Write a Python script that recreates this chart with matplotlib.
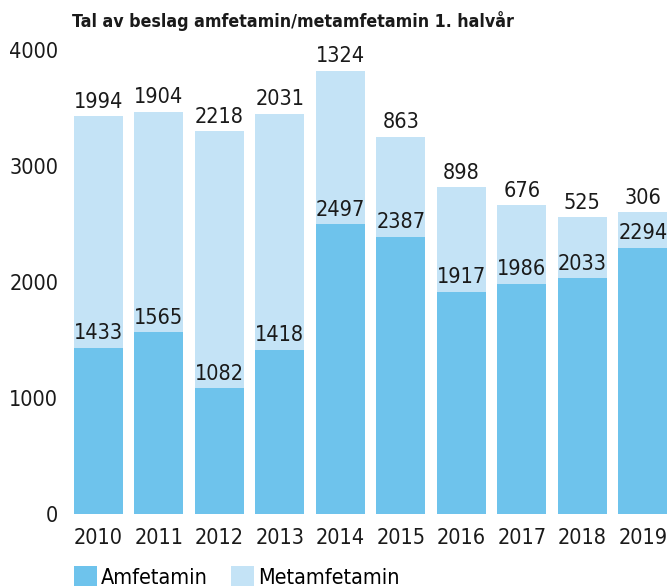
import matplotlib
matplotlib.use("Agg")
import matplotlib.pyplot as plt
from matplotlib.patches import Patch

years = ["2010", "2011", "2012", "2013", "2014", "2015", "2016", "2017", "2018", "2019"]
amfetamin = [1433, 1565, 1082, 1418, 2497, 2387, 1917, 1986, 2033, 2294]
metamfetamin = [1994, 1904, 2218, 2031, 1324, 863, 898, 676, 525, 306]
yticks = [0, 1000, 2000, 3000, 4000]

c_dark = "#6EC3EC"
c_light = "#C4E3F6"
txt = "#1a1a1a"
fam = ["DejaVu Sans"]
st = "condensed"
fs = 15.5

W, H = 667, 587
fig = plt.figure(figsize=(W / 100, H / 100), dpi=100)
ax = fig.add_axes([68 / W, (H - 514) / H, (667 - 68) / W, (514 - 50) / H])

x = list(range(len(years)))
ax.bar(x, amfetamin, width=0.81, color=c_dark, linewidth=0)
ax.bar(x, metamfetamin, bottom=amfetamin, width=0.81, color=c_light, linewidth=0)

for i in x:
    a = amfetamin[i]
    m = metamfetamin[i]
    ax.text(i, a + 40, str(a), ha="center", va="bottom", fontsize=fs, color=txt, family=fam, stretch=st)
    ax.text(i, a + m + 40, str(m), ha="center", va="bottom", fontsize=fs, color=txt, family=fam, stretch=st)

ax.set_xlim(-0.5, 9.4)
ax.set_ylim(0, 4000)
ax.set_yticks(yticks)
ax.set_yticklabels([str(v) for v in yticks], fontsize=fs, color=txt, family=fam, stretch=st)
ax.set_xticks(x)
ax.set_xticklabels(years, fontsize=fs, color=txt, family=fam, stretch=st)
ax.tick_params(axis="both", length=0)
ax.tick_params(axis="y", pad=7)
ax.tick_params(axis="x", pad=10)
for s in ax.spines.values():
    s.set_visible(False)

fig.text(72 / W, 1 - 21 / H, "Tal av beslag amfetamin/metamfetamin 1. halvår", fontsize=12.8,
         fontweight="bold", color=txt, family=fam, stretch=st, va="center", ha="left")

handles = [Patch(facecolor=c_dark, edgecolor="none"), Patch(facecolor=c_light, edgecolor="none")]
fig.legend(handles, ["Amfetamin", "Metamfetamin"], loc="center left",
           bbox_to_anchor=(74 / W, 1 - 577 / H), ncol=2, frameon=False,
           prop={"family": fam, "size": fs, "stretch": st}, handlelength=1.05, handleheight=1.05,
           handletextpad=0.2, columnspacing=1.1, borderaxespad=0, borderpad=0)

fig.savefig("out.png", dpi=100)
